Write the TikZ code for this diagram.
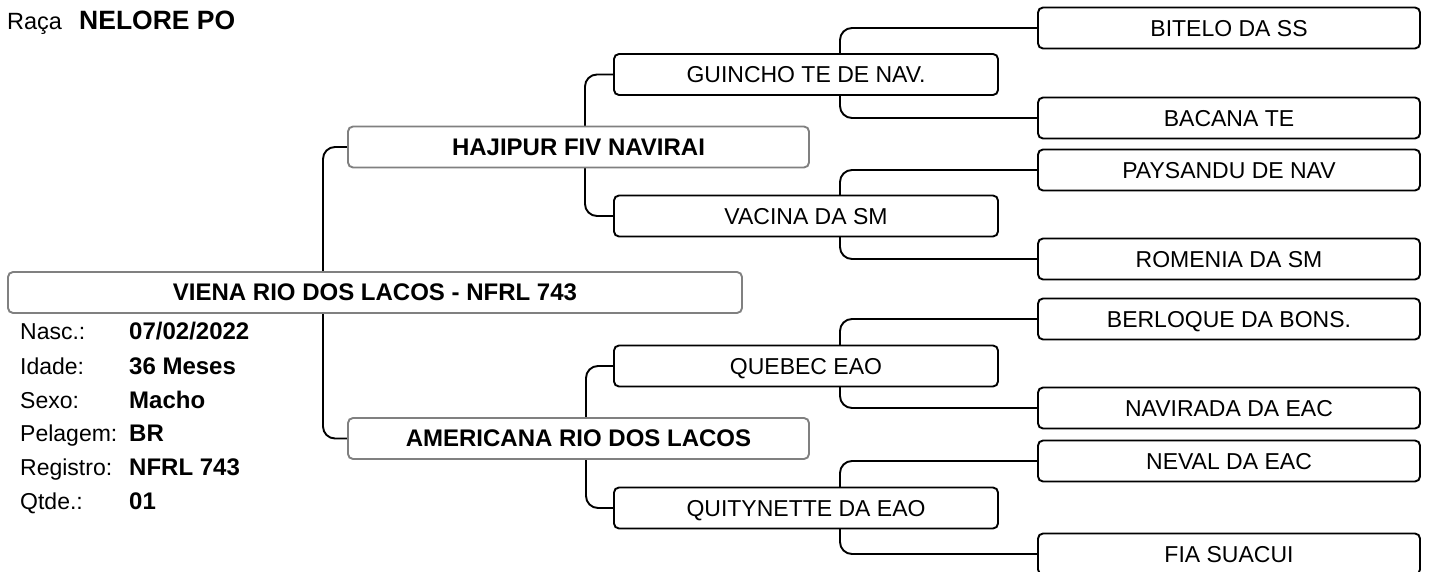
\documentclass[tikz,border=0pt]{standalone}
\usepackage{fontspec}
\setmainfont{Liberation Sans}
\usetikzlibrary{backgrounds}
\definecolor{boxgray}{HTML}{808080}
\tikzset{
  pbox/.style={draw, fill=white, rounded corners=5pt, line width=1.9pt,
               minimum height=41pt, inner sep=0pt, text height=16.5pt, text depth=0pt,
               font=\fontsize{23}{26}\selectfont},
  mainbox/.style={pbox, draw=boxgray, font=\fontsize{24}{27}\selectfont\bfseries},
  gentwobox/.style={pbox, minimum width=384pt},
  genthreebox/.style={pbox, minimum width=382pt},
  link/.style={line width=1.9pt, rounded corners=12pt},
  info/.style={anchor=base west, inner sep=0pt, font=\fontsize{23}{26}\selectfont},
  infoval/.style={info, font=\fontsize{24}{27}\selectfont\bfseries},
}

\begin{document}
\begin{tikzpicture}[x=1pt, y=-1pt]
    \useasboundingbox (0,0) rectangle (1431,572);
    \node[info, font=\fontsize{23.5}{26}\selectfont] (raca) at (7,30) {Raça};
    \node[infoval, font=\fontsize{26.5}{29}\selectfont\bfseries] (racaval) at (79,30) {NELORE PO};

    \node[mainbox, minimum width=734pt] (animal) at (375,292.5) {VIENA RIO DOS LACOS - NFRL 743};
    \node[mainbox, minimum width=461pt] (s) at (578.5,147) {HAJIPUR FIV NAVIRAI};
    \node[mainbox, minimum width=461pt] (d) at (578.5,438.5) {AMERICANA RIO DOS LACOS};

    \node[gentwobox] (ss) at (806,74.5) {GUINCHO TE DE NAV.};
    \node[gentwobox] (sd) at (806,216) {VACINA DA SM};
    \node[gentwobox] (ds) at (806,366) {QUEBEC EAO};
    \node[gentwobox] (dd) at (806,508) {QUITYNETTE DA EAO};

    \node[genthreebox] (sss) at (1229,28) {BITELO DA SS};
    \node[genthreebox] (ssd) at (1229,118) {BACANA TE};
    \node[genthreebox] (sds) at (1229,170) {PAYSANDU DE NAV};
    \node[genthreebox] (sdd) at (1229,259) {ROMENIA DA SM};
    \node[genthreebox] (dss) at (1229,319) {BERLOQUE DA BONS.};
    \node[genthreebox] (dsd) at (1229,408) {NAVIRADA DA EAC};
    \node[genthreebox] (dds) at (1229,461) {NEVAL DA EAC};
    \node[genthreebox] (ddd) at (1229,554) {FIA SUACUI};

    \node[info] (nasc) at (20,339.5) {Nasc.:};
    \node[infoval] (nascval) at (129,339.5) {07/02/2022};
    \node[info] (idade) at (20,374.5) {Idade:};
    \node[infoval] (idadeval) at (129,374.5) {36 Meses};
    \node[info] (sexo) at (20,408.5) {Sexo:};
    \node[infoval] (sexoval) at (129,408.5) {Macho};
    \node[info] (pelagem) at (20,441.5) {Pelagem:};
    \node[infoval] (pelagemval) at (129,441.5) {BR};
    \node[info] (registro) at (20,475.5) {Registro:};
    \node[infoval] (registroval) at (129,475.5) {NFRL 743};
    \node[info] (qtde) at (20,509) {Qtde.:};
    \node[infoval] (qtdeval) at (129,509) {01};

    \coordinate (j0) at (323,292.5);
    \coordinate (j1) at (585,147);
    \coordinate (j2) at (586,438.5);
    \coordinate (j3) at (840,74.5);
    \coordinate (j4) at (840,216);
    \coordinate (j5) at (840,366);
    \coordinate (j6) at (840,508);

    \begin{scope}[on background layer]
      \draw[link] (s.west) -| (j0) |- (d.west);
      \draw[link] (ss.west) -| (j1) |- (sd.west);
      \draw[link] (ds.west) -| (j2) |- (dd.west);
      \draw[link] (sss.west) -| (j3) |- (ssd.west);
      \draw[link] (sds.west) -| (j4) |- (sdd.west);
      \draw[link] (dss.west) -| (j5) |- (dsd.west);
      \draw[link] (dds.west) -| (j6) |- (ddd.west);
    \end{scope}
\end{tikzpicture}
\end{document}
